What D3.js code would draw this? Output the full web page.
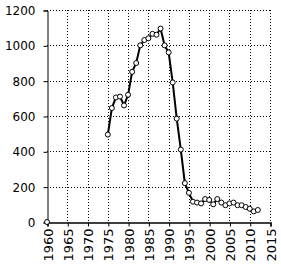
<!DOCTYPE html>
<html><head><meta charset="utf-8">
<script src="https://cdn.jsdelivr.net/npm/d3@7"></script>
<style>body{margin:0;background:#fff}svg{display:block}</style>
</head><body>
<script>
const years = [1960,1975,1976,1977,1978,1979,1980,1981,1982,1983,1984,1985,1986,1987,1988,1989,1990,1991,1992,1993,1994,1995,1996,1997,1998,1999,2000,2001,2002,2003,2004,2005,2006,2007,2008,2009,2010,2011,2012];
const values = [0,495,645,705,710,660,720,850,900,1000,1030,1040,1065,1060,1095,1000,960,790,585,410,220,165,115,110,105,130,125,100,130,110,95,105,110,95,95,85,75,60,68];
const xTicks = [1960,1965,1970,1975,1980,1985,1990,1995,2000,2005,2010,2015];
const yTicks = [0,200,400,600,800,1000,1200];

const W=281,H=267;
const svg=d3.select("body").append("svg").attr("width",W).attr("height",H);
const x=d3.scaleLinear().domain([1960,2015]).range([47,270]);
const y=d3.scaleLinear().domain([0,1200]).range([222,10]);

// grid
svg.append("g").selectAll("line").data(yTicks.slice(1)).join("line")
  .attr("x1",47).attr("x2",270).attr("y1",d=>Math.round(y(d))+0.5).attr("y2",d=>Math.round(y(d))+0.5)
  .attr("stroke","#000").attr("stroke-dasharray","1,2");
svg.append("g").selectAll("line").data(xTicks.slice(1)).join("line")
  .attr("y1",10).attr("y2",222).attr("x1",d=>Math.round(x(d))+0.5).attr("x2",d=>Math.round(x(d))+0.5)
  .attr("stroke","#000").attr("stroke-dasharray","1,2");

// axes
const ya=svg.append("g").attr("transform","translate(47.5,0.5)")
  .call(d3.axisLeft(y).tickValues(yTicks).tickSize(4).tickPadding(8).tickFormat(d3.format("d")));
const xa=svg.append("g").attr("transform","translate(0.5,222.5)")
  .call(d3.axisBottom(x).tickValues(xTicks).tickSize(4).tickFormat(d3.format("d")));
[ya,xa].forEach(a=>{a.select(".domain").attr("stroke","#000");a.selectAll("line").attr("stroke","#000");
  a.selectAll("text").attr("fill","#000").style("font-family","DejaVu Sans").style("font-size","12px");});
xa.select(".domain").attr("stroke-width",1.5);
xa.selectAll("text").style("font-size","13px").attr("transform","rotate(-90)")
  .attr("text-anchor","end").attr("x",-6).attr("y",0).attr("dy","0.35em");

// line
const pts=years.map((d,i)=>[d,values[i]]);
svg.append("path").datum(pts.slice(1)).attr("fill","none").attr("stroke","#000").attr("stroke-width",2)
  .attr("d",d3.line().x(d=>x(d[0])).y(d=>y(d[1])));
svg.append("g").selectAll("circle").data(pts).join("circle")
  .attr("cx",d=>x(d[0])).attr("cy",d=>y(d[1])).attr("r",2.5)
  .attr("fill","#fff").attr("stroke","#000").attr("stroke-width",1);
</script>
</body></html>
